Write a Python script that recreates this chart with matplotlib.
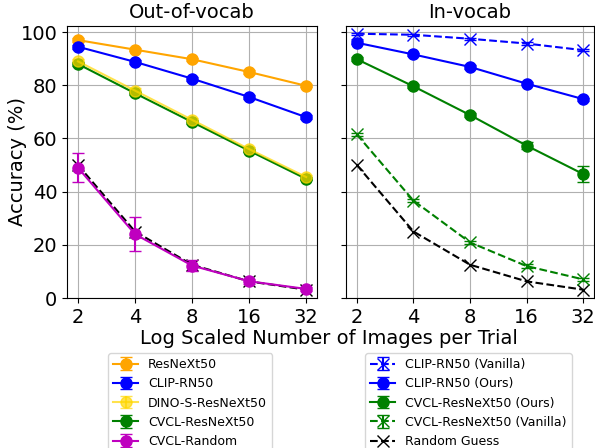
import matplotlib
matplotlib.use("Agg")
import matplotlib.pyplot as plt
import numpy as np

x = [2, 4, 8, 16, 32]
xticklabels = ["2", "4", "8", "16", "32"]

# Out-of-vocab
oov_resnext = [97.0, 93.4, 89.8, 85.0, 79.8]
oov_resnext_err = [0.6, 0.6, 0.6, 0.6, 0.6]
oov_clip = [94.5, 88.8, 82.5, 75.6, 68.0]
oov_clip_err = [0.8, 0.8, 0.8, 0.8, 0.8]
oov_dino = [89.0, 78.0, 67.0, 56.0, 45.5]
oov_dino_err = [0.8, 0.8, 0.8, 0.8, 0.8]
oov_cvcl = [88.0, 77.0, 66.2, 55.4, 44.8]
oov_cvcl_err = [0.6, 0.6, 0.6, 0.6, 0.6]
oov_random = [49.0, 24.0, 12.2, 6.3, 3.4]
oov_random_err = [5.5, 6.5, 2.2, 1.0, 0.8]
chance = [50.0, 25.0, 12.5, 6.25, 3.125]

# In-vocab
iv_clip_vanilla = [99.4, 99.0, 97.5, 95.7, 93.2]
iv_clip_vanilla_err = [0.4, 0.4, 0.4, 0.4, 0.4]
iv_clip_ours = [96.0, 91.6, 86.9, 80.6, 74.8]
iv_clip_ours_err = [0.6, 0.6, 0.6, 0.6, 0.6]
iv_cvcl_ours = [89.8, 79.6, 68.8, 57.3, 46.6]
iv_cvcl_ours_err = [0.8, 0.8, 0.8, 1.2, 3.0]
iv_cvcl_vanilla = [61.5, 36.6, 20.9, 12.0, 7.0]
iv_cvcl_vanilla_err = [0.6, 0.6, 0.6, 0.6, 0.6]

plt.rcParams['font.size'] = 14
fig = plt.figure(figsize=(5.95, 4.48), dpi=100)
ax1 = fig.add_axes([67/595, 1-298/448, 250/595, 272/448])
ax2 = fig.add_axes([346/595, 1-298/448, 248/595, 272/448], sharey=ax1)

kw = dict(capsize=4, markersize=8, linewidth=1.5)

ax1.plot(x, chance, '--', color='black', marker='x', markersize=8, linewidth=1.5)
h1 = ax1.errorbar(x, oov_resnext, yerr=oov_resnext_err, color='orange', marker='o', label='ResNeXt50', **kw)
h2 = ax1.errorbar(x, oov_clip, yerr=oov_clip_err, color='blue', marker='o', label='CLIP-RN50', **kw)
h4 = ax1.errorbar(x, oov_cvcl, yerr=oov_cvcl_err, color='green', marker='o', label='CVCL-ResNeXt50', **kw)
h3 = ax1.errorbar(x, oov_dino, yerr=oov_dino_err, color='gold', marker='o', label='DINO-S-ResNeXt50', alpha=0.7, **kw)
h5 = ax1.errorbar(x, oov_random, yerr=oov_random_err, color='m', marker='o', label='CVCL-Random', **kw)

g1 = ax2.errorbar(x, iv_clip_vanilla, yerr=iv_clip_vanilla_err, color='blue', marker='x', linestyle='--', label='CLIP-RN50 (Vanilla)', **kw)
g2 = ax2.errorbar(x, iv_clip_ours, yerr=iv_clip_ours_err, color='blue', marker='o', label='CLIP-RN50 (Ours)', **kw)
g3 = ax2.errorbar(x, iv_cvcl_ours, yerr=iv_cvcl_ours_err, color='green', marker='o', label='CVCL-ResNeXt50 (Ours)', **kw)
g4 = ax2.errorbar(x, iv_cvcl_vanilla, yerr=iv_cvcl_vanilla_err, color='green', marker='x', linestyle='--', label='CVCL-ResNeXt50 (Vanilla)', **kw)
g5, = ax2.plot(x, chance, '--', color='black', marker='x', markersize=8, linewidth=1.5, label='Random Guess')

for ax in (ax1, ax2):
    ax.set_xscale('log', base=2)
    ax.set_xticks(x)
    ax.set_xticklabels(xticklabels)
    ax.minorticks_off()
    ax.set_xlim(1.75, 36.5)
    ax.grid(True, color='#b0b0b0', linewidth=0.8)
    ax.set_axisbelow(True)
ax1.set_ylim(0, 102.3)
ax1.set_yticks([0, 20, 40, 60, 80, 100])
ax2.tick_params(axis='y', labelleft=False)
ax1.set_title('Out-of-vocab', fontsize=14)
ax2.set_title('In-vocab', fontsize=14)
fig.text(18/595, 1-162/448, 'Accuracy (%)', rotation=90, ha='center', va='center', fontsize=14)
fig.text(0.553, 1-344/448, 'Log Scaled Number of Images per Trial', ha='center', va='baseline', fontsize=14)

fig.legend(handles=[h1, h2, h3, h4, h5], loc='upper left', bbox_to_anchor=(108/595, 1-353/448), fontsize=9, borderaxespad=0)
fig.legend(handles=[g1, g2, g3, g4, g5], loc='upper left', bbox_to_anchor=(365/595, 1-353/448), fontsize=9, borderaxespad=0)

fig.savefig('out.png', dpi=100)
